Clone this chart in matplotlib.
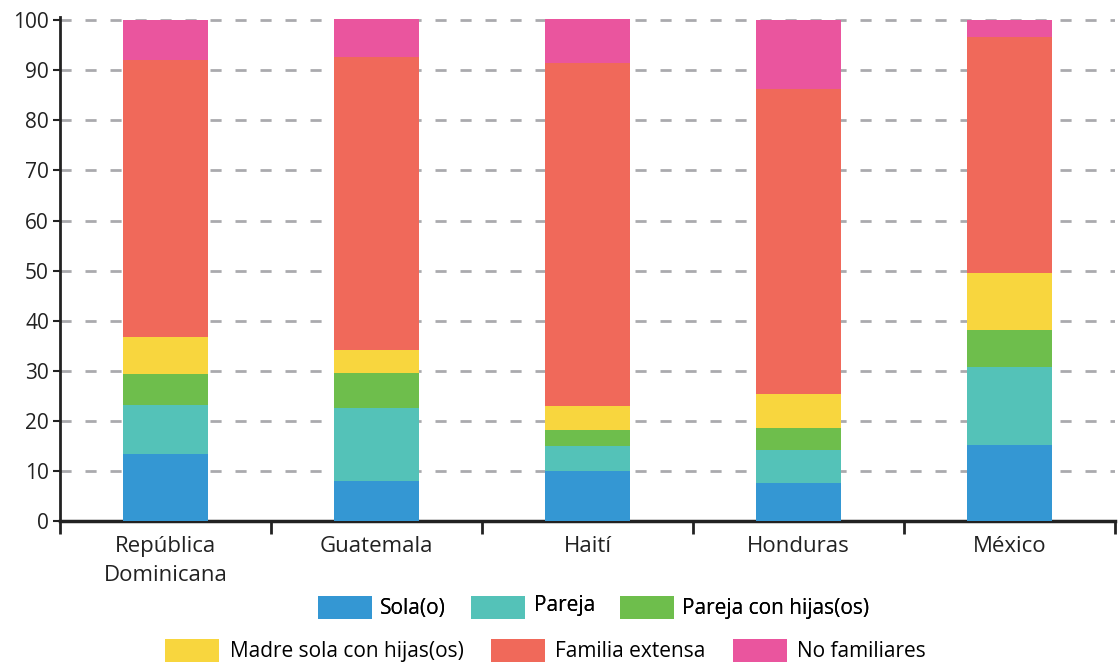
import numpy as np
import matplotlib.pyplot as plt
from matplotlib.patches import Patch

# datos (porcentajes)
paises = ['República\nDominicana', 'Guatemala', 'Haití', 'Honduras', 'México']
sola = [13.4, 8.0, 9.9, 7.6, 15.2]
pareja = [9.7, 14.5, 5.0, 6.6, 15.5]
pareja_hijos = [6.2, 7.1, 3.3, 4.4, 7.5]
madre_sola = [7.4, 4.6, 4.8, 6.7, 11.3]
familia_extensa = [55.4, 58.4, 68.4, 60.9, 47.1]
no_familiares = [7.9, 7.7, 8.9, 13.8, 3.4]

series = ['Sola(o)', 'Pareja', 'Pareja con hijas(os)',
          'Madre sola con hijas(os)', 'Familia extensa', 'No familiares']
valores = [sola, pareja, pareja_hijos, madre_sola, familia_extensa, no_familiares]
colores = ['#3497D3', '#54C2B8', '#6EBE4C', '#F8D63E', '#F0695A', '#EA559E']

plt.rcParams['font.family'] = ['Open Sans', 'DejaVu Sans']

fig = plt.figure(figsize=(11.2, 6.62), dpi=100)
ax = fig.add_axes([0.0536, 0.213, 0.942, 0.761])

x = np.arange(len(paises))
base = np.zeros(len(paises))
for nombre, vals, col in zip(series, valores, colores):
    ax.bar(x, vals, bottom=base, width=0.4, color=col, label=nombre, zorder=3)
    base += np.array(vals)

# cuadrícula
for yv in range(10, 101, 10):
    ax.axhline(yv, color='#AAAAAE', linestyle=(0, (4, 5)), linewidth=2, zorder=1)

ax.set_xlim(-0.5, len(paises) - 0.5)
ax.set_ylim(0, 100.6)
ax.set_yticks(range(0, 101, 10))
ax.tick_params(axis='y', labelsize=15, colors='#222222', length=5, width=1.5, pad=3)

ax.set_xticks(x)
ax.set_xticklabels(paises, fontsize=16, color='#222222', linespacing=1.5)
ax.tick_params(axis='x', which='major', length=0, pad=11)
ax.set_xticks(np.arange(-0.5, len(paises)), minor=True)
ax.tick_params(axis='x', which='minor', length=9, width=2, color='#222222')

for s in ['top', 'right']:
    ax.spines[s].set_visible(False)
ax.spines['left'].set_linewidth(2)
ax.spines['left'].set_color('#222222')
ax.spines['bottom'].set_linewidth(2.5)
ax.spines['bottom'].set_color('#222222')

handles = [Patch(facecolor=c, label=s) for s, c in zip(series, colores)]
leg1 = fig.legend(handles=handles[:3], loc='center', bbox_to_anchor=(0.53, 0.082),
                  ncol=3, frameon=False, fontsize=15, handlelength=2.6,
                  handleheight=1.3, handletextpad=0.4, columnspacing=1.2)
leg1.get_texts()[1].set_y(3)
fig.legend(handles=handles[3:], loc='center', bbox_to_anchor=(0.487, 0.017),
           ncol=3, frameon=False, fontsize=15, handlelength=2.6,
           handleheight=1.3, handletextpad=0.5, columnspacing=1.3)
fig.add_artist(leg1)

fig.savefig('out.png', dpi=100)
